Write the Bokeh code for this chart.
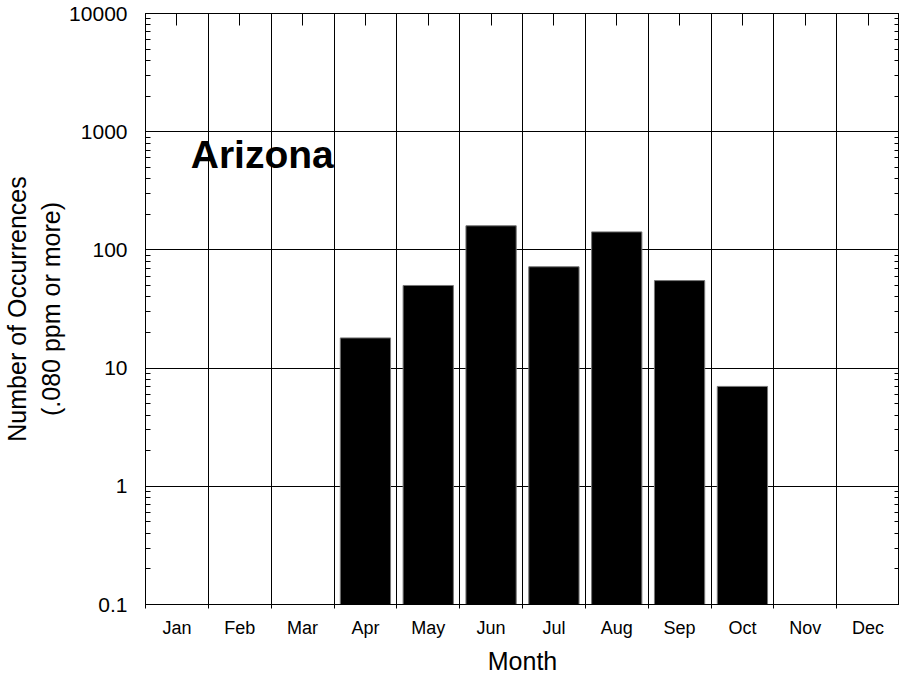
from bokeh.plotting import figure
from bokeh.models import (ColumnDataSource, FixedTicker, LinearAxis, LogAxis,
                          CustomJSTickFormatter, Label, Range1d)
from bokeh.embed import file_html
from bokeh.resources import INLINE

# ---- data ----
months = ["Jan", "Feb", "Mar", "Apr", "May", "Jun",
          "Jul", "Aug", "Sep", "Oct", "Nov", "Dec"]
occurrences = [0, 0, 0, 18, 50, 160, 72, 142, 55, 7, 0, 0]
y_tick_values = [0.1, 1, 10, 100, 1000, 10000]
state_name = "Arizona"

FONT = "Liberation Sans"
TICK = "black"

centers = [i + 0.5 for i in range(len(months))]
boundaries = list(range(len(months) + 1))
minor_y = [k * d for d in y_tick_values[:-1] for k in range(2, 10)]

bx = [c for c, v in zip(centers, occurrences) if v > 0]
bt = [v for v in occurrences if v > 0]
src = ColumnDataSource(dict(x=bx, top=bt, bottom=[y_tick_values[0]] * len(bx)))

p = figure(width=899, height=678, output_backend="svg", toolbar_location=None,
           y_axis_type="log", x_range=Range1d(0, len(months)),
           y_range=Range1d(y_tick_values[0], y_tick_values[-1]),
           min_border_left=137, min_border_right=0, min_border_top=13,
           min_border_bottom=74)
p.background_fill_color = "white"
p.outline_line_color = "black"
p.outline_line_width = 1

p.vbar(x="x", top="top", bottom="bottom", width=0.8, source=src,
       fill_color="black", line_color="#777777", line_width=1)

# bottom axis
xa = p.xaxis[0]
xa.ticker = FixedTicker(ticks=centers, minor_ticks=boundaries)
xa.formatter = CustomJSTickFormatter(args=dict(labels=months),
                                     code="return labels[Math.floor(tick)];")
xa.major_tick_in = 0
xa.major_tick_out = 0
xa.minor_tick_in = 0
xa.minor_tick_out = 4
xa.minor_tick_line_color = TICK
xa.axis_line_color = "black"
xa.major_label_text_font = FONT
xa.major_label_text_font_size = "18px"
xa.major_label_text_color = "black"
xa.major_label_standoff = 9
xa.axis_label = "Month"
xa.axis_label_text_font = FONT
xa.axis_label_text_font_size = "25px"
xa.axis_label_text_font_style = "normal"
xa.axis_label_text_color = "black"
xa.axis_label_standoff = 6

# left axis
ya = p.yaxis[0]
ya.ticker = FixedTicker(ticks=y_tick_values, minor_ticks=minor_y)
ya.formatter = CustomJSTickFormatter(code="return tick >= 1 ? tick.toFixed(0) : tick.toString();")
ya.major_tick_in = 8
ya.major_tick_out = 0
ya.minor_tick_in = 5
ya.minor_tick_out = 0
ya.major_tick_line_color = TICK
ya.minor_tick_line_color = TICK
ya.axis_line_color = "black"
ya.major_label_text_font = FONT
ya.major_label_text_font_size = "21px"
ya.major_label_text_color = "black"
ya.major_label_standoff = 18
ya.axis_label = "Number of Occurrences\n(.080 ppm or more)"
ya.axis_label_text_font = FONT
ya.axis_label_text_font_size = "25px"
ya.axis_label_text_font_style = "normal"
ya.axis_label_text_color = "black"
ya.axis_label_standoff = 1

# top axis
top_ax = LinearAxis(ticker=FixedTicker(ticks=centers, minor_ticks=[]),
                    formatter=CustomJSTickFormatter(code="return '';"))
top_ax.major_tick_in = 12
top_ax.major_tick_out = 0
top_ax.minor_tick_in = 0
top_ax.minor_tick_out = 0
top_ax.major_label_standoff = 0
top_ax.axis_line_color = "black"
top_ax.major_tick_line_color = TICK
p.add_layout(top_ax, "above")

# right axis
right_ax = LogAxis(ticker=FixedTicker(ticks=y_tick_values, minor_ticks=minor_y),
                   formatter=CustomJSTickFormatter(code="return '';"))
right_ax.major_tick_in = 10
right_ax.major_tick_out = 0
right_ax.minor_tick_in = 5
right_ax.minor_tick_out = 0
right_ax.major_label_standoff = 0
right_ax.axis_line_color = "black"
right_ax.major_tick_line_color = TICK
right_ax.minor_tick_line_color = TICK
p.add_layout(right_ax, "right")

# grids
p.xgrid.ticker = FixedTicker(ticks=boundaries[1:-1])
p.xgrid.grid_line_color = "black"
p.xgrid.grid_line_width = 1
p.ygrid.ticker = FixedTicker(ticks=y_tick_values)
p.ygrid.grid_line_color = "black"
p.ygrid.grid_line_width = 1

p.add_layout(Label(x=0.72, y=640, text=state_name, text_font=FONT,
                   text_font_size="39px", text_font_style="bold",
                   text_color="black", text_baseline="alphabetic"))

open("out.html", "w").write(file_html(p, INLINE))
